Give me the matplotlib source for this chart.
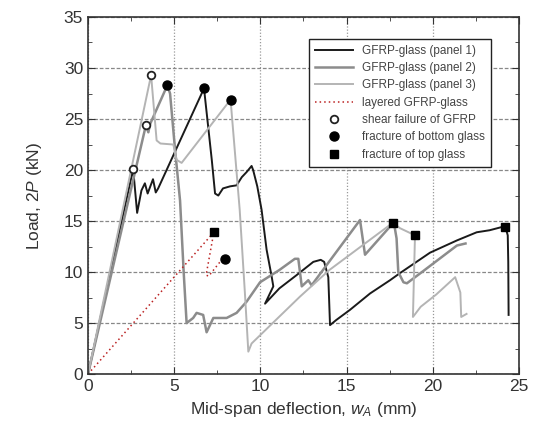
import matplotlib
matplotlib.use("Agg")
import matplotlib.pyplot as plt
from matplotlib.ticker import MultipleLocator

plt.rcParams['font.family'] = ['Liberation Sans', 'DejaVu Sans']
plt.rcParams['mathtext.fontset'] = 'custom'
plt.rcParams['mathtext.rm'] = 'Liberation Sans'
plt.rcParams['mathtext.it'] = 'Liberation Sans:italic'

# panel 1 (black)
p1_x = [0, 2.62, 2.85, 3.1, 3.3, 3.46, 3.77, 3.93, 4.07, 6.73, 7.18, 7.37, 7.56, 7.83, 8.24,
        8.62, 8.92, 9.2, 9.49, 9.58, 9.82, 10.07, 10.36, 10.65, 10.75, 10.27, 11.1, 12.1,
        13.07, 13.5, 13.7, 13.94, 14.04, 14.4, 15.2, 16.36, 17.52, 18.1, 19.84, 21.4,
        22.55, 23.3, 24.2, 24.35, 24.38, 24.4]
p1_y = [0, 20.1, 15.8, 18.0, 18.7, 17.7, 19.1, 17.8, 18.2, 28.0, 21.0, 17.7, 17.5, 18.2, 18.4,
        18.5, 19.3, 19.8, 20.4, 20.0, 18.4, 16.1, 12.2, 9.6, 8.6, 6.9, 8.4, 9.7,
        11.0, 11.2, 11.0, 9.5, 4.8, 5.3, 6.3, 7.9, 9.2, 9.9, 11.9, 13.1,
        13.9, 14.1, 14.5, 13.6, 11.0, 5.8]

# panel 2 (mid grey)
p2_x = [0, 3.36, 3.5, 3.6, 4.6, 4.76, 5.05, 5.34, 5.55, 5.72, 6.1, 6.3, 6.68, 6.88, 7.27,
        8.04, 8.62, 9.2, 9.98, 11.1, 12.0, 12.2, 12.4, 12.78, 12.97, 14.42, 15.78, 16.07,
        17.7, 17.8, 17.9, 18.0, 18.3, 18.5, 19.45, 21.4, 21.9]
p2_y = [0, 24.4, 23.7, 24.5, 28.3, 27.5, 22.0, 17.0, 10.0, 5.0, 5.5, 6.0, 5.8, 4.1, 5.5,
        5.5, 6.0, 7.1, 9.0, 10.2, 11.3, 11.3, 8.6, 9.2, 8.7, 12.0, 15.1, 11.7,
        14.8, 14.3, 13.3, 10.0, 9.0, 8.9, 10.1, 12.6, 12.8]

# panel 3 (light grey)
p3_x = [0, 3.66, 3.98, 4.2, 4.95, 5.14, 5.43, 8.27, 8.8, 9.1, 9.3, 9.49, 12.3, 14.0, 17.5,
        17.7, 18.1, 18.97, 18.9, 18.85, 19.3, 20.2, 21.3, 21.6, 21.65, 21.96]
p3_y = [0, 29.3, 22.9, 22.6, 22.5, 21.0, 20.7, 26.9, 16.1, 8.0, 2.2, 3.0, 7.6, 10.2, 14.6,
        14.8, 14.3, 13.6, 9.0, 5.6, 6.6, 7.8, 9.5, 8.0, 5.6, 5.9]

# layered GFRP-glass (red dotted)
lay_x = [0, 7.3, 6.85, 7.0, 7.66]
lay_y = [0, 13.9, 9.7, 9.6, 11.0]

# failure markers
shear_x = [2.62, 3.36, 3.66]
shear_y = [20.1, 24.4, 29.3]
bottom_x = [4.6, 6.7, 8.27, 7.95]
bottom_y = [28.3, 28.0, 26.9, 11.3]
top_x = [7.31, 17.7, 18.97, 24.2]
top_y = [13.95, 14.8, 13.6, 14.4]

fig = plt.figure(figsize=(5.35, 4.3), dpi=100)
ax = fig.add_axes([0.1645, 0.130, 0.8055, 0.8305])

ax.plot(p1_x, p1_y, color='#1a1a1a', lw=1.4, label='GFRP-glass (panel 1)')
ax.plot(p2_x, p2_y, color='#8c8c8c', lw=1.8, label='GFRP-glass (panel 2)')
ax.plot(p3_x, p3_y, color='#b4b4b4', lw=1.4, label='GFRP-glass (panel 3)')
ax.plot(lay_x, lay_y, color='#bb2222', lw=1.1, linestyle=(0, (1, 2)), label='layered GFRP-glass')

ax.plot(shear_x, shear_y, 'o', ms=5.5, mfc='white', mec='#222222', mew=1.3, ls='none',
        label='shear failure of GFRP')
ax.plot(bottom_x, bottom_y, 'o', ms=6.5, color='black', ls='none', label='fracture of bottom glass')
ax.plot(top_x, top_y, 's', ms=5.5, color='black', ls='none', label='fracture of top glass')

ax.set_xlim(0, 25)
ax.set_ylim(0, 35)
ax.xaxis.set_major_locator(MultipleLocator(5))
ax.xaxis.set_minor_locator(MultipleLocator(2.5))
ax.yaxis.set_major_locator(MultipleLocator(5))
ax.yaxis.set_minor_locator(MultipleLocator(2.5))
ax.tick_params(which='both', direction='in', top=True, right=True, labelsize=12.5,
               colors='#333333', labelcolor='#333333')
ax.tick_params(which='major', length=5)
ax.tick_params(which='minor', length=3)
for s in ax.spines.values():
    s.set_linewidth(1.2)
    s.set_color('#333333')

ax.yaxis.grid(True, which='major', color='#888888', lw=0.9, linestyle=(0, (3, 1.5)))
ax.xaxis.grid(True, which='major', color='#999999', lw=0.9, linestyle=(0, (1, 1.5)))
ax.set_axisbelow(True)

ax.set_xlabel('Mid-span deflection, $w_A$ (mm)', fontsize=12.5, color='#333333')
ax.set_ylabel('Load, 2$P$ (kN)', fontsize=12.5, color='#333333', labelpad=14)

leg = ax.legend(loc='upper right', bbox_to_anchor=(0.949, 0.955), fontsize=8.5,
                fancybox=False, edgecolor='#222222', framealpha=1, handlelength=3.2,
                labelspacing=0.45, borderpad=0.5)
leg.get_frame().set_linewidth(1.0)
for t in leg.get_texts():
    t.set_color('#444444')

fig.savefig('out.png', dpi=100)
